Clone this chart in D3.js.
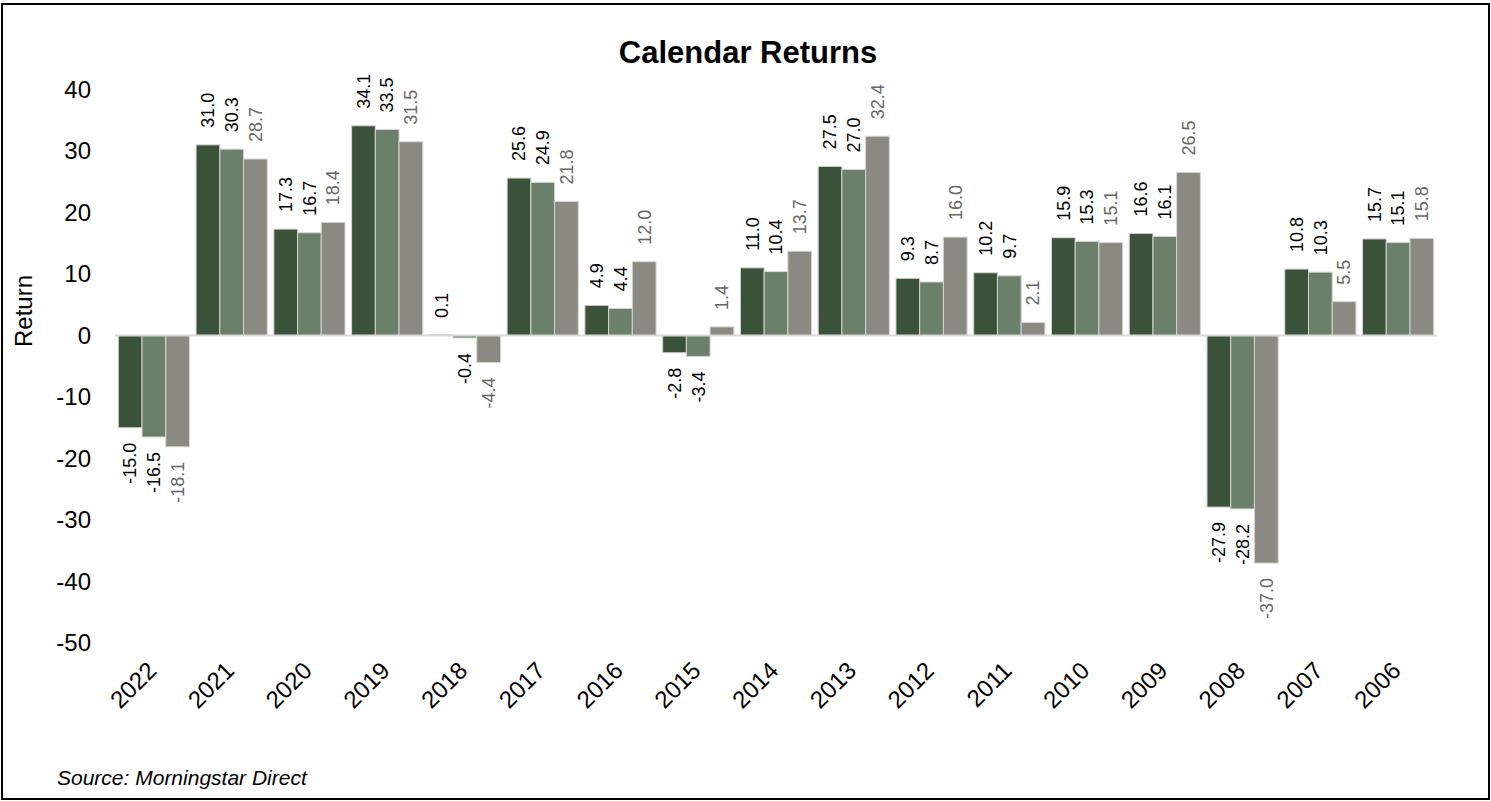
<!DOCTYPE html>
<html>
<head>
<meta charset="utf-8">
<script src="https://cdn.jsdelivr.net/npm/d3@7"></script>
<style>
  html, body { margin: 0; padding: 0; background: #fff; }
  svg { display: block; font-family: Arial, "Liberation Sans", sans-serif; }
</style>
</head>
<body>
<svg id="chart" width="1491" height="801"></svg>
<script>
const years = ["2022","2021","2020","2019","2018","2017","2016","2015","2014","2013","2012","2011","2010","2009","2008","2007","2006"];
const seriesNames = ["Series A","Series B","Series C"];
const seriesA = [-15.0, 31.0, 17.3, 34.1, 0.1, 25.6, 4.9, -2.8, 11.0, 27.5, 9.3, 10.2, 15.9, 16.6, -27.9, 10.8, 15.7];
const seriesB = [-16.5, 30.3, 16.7, 33.5, -0.4, 24.9, 4.4, -3.4, 10.4, 27.0, 8.7, 9.7, 15.3, 16.1, -28.2, 10.3, 15.1];
const seriesC = [-18.1, 28.7, 18.4, 31.5, -4.4, 21.8, 12.0, 1.4, 13.7, 32.4, 16.0, 2.1, 15.1, 26.5, -37.0, 5.5, 15.8];
const yTicks = [40, 30, 20, 10, 0, -10, -20, -30, -40, -50];

const colors = ["#3a523a", "#6a806a", "#8a8a82"];
const labelColors = ["#000000", "#000000", "#666666"];

const svg = d3.select("#chart");
const W = 1491, H = 801;

// outer border
svg.append("rect").attr("x", 2).attr("y", 4).attr("width", W - 4).attr("height", H - 6)
  .attr("fill", "none").attr("stroke", "#000").attr("stroke-width", 2);

const x = d3.scaleBand().domain(years).range([115, 1437]).paddingInner(0.085).paddingOuter(0.0425);
const xs = d3.scaleBand().domain(seriesNames).range([0, x.bandwidth()]).padding(0);
const y = d3.scaleLinear().domain([-50, 40]).range([643, 89.5]);

const data = years.map((yr, i) => ({ year: yr, vals: [seriesA[i], seriesB[i], seriesC[i]] }));

// title
svg.append("text").attr("x", 748).attr("y", 63).attr("text-anchor", "middle")
  .attr("font-size", 31).attr("font-weight", "bold").attr("fill", "#000").text("Calendar Returns");

// y axis
const yAxis = d3.axisLeft(y).tickValues(yTicks).tickSize(0).tickPadding(0).tickFormat(d => String(d));
const yg = svg.append("g").attr("transform", "translate(91,0)").call(yAxis);
yg.select(".domain").remove();
yg.selectAll("text").attr("font-size", 24).attr("fill", "#000").attr("font-family", "Arial, 'Liberation Sans', sans-serif");

// y label
svg.append("text").attr("transform", "translate(32,311) rotate(-90)").attr("text-anchor", "middle")
  .attr("font-size", 24).attr("fill", "#000").text("Return");

// bars
const groups = svg.append("g").selectAll("g").data(data).join("g")
  .attr("transform", d => `translate(${x(d.year)},0)`);

groups.selectAll("rect").data(d => d.vals.map((v, k) => ({ v, k }))).join("rect")
  .attr("x", d => xs(seriesNames[d.k]))
  .attr("width", xs.bandwidth())
  .attr("y", d => y(Math.max(0, d.v)))
  .attr("height", d => Math.abs(y(d.v) - y(0)))
  .attr("fill", d => colors[d.k])
  .attr("stroke", "#d4d4d0").attr("stroke-width", 1);

// zero line
svg.append("line").attr("x1", 115).attr("x2", 1437).attr("y1", y(0)).attr("y2", y(0))
  .attr("stroke", "#d9d9d9").attr("stroke-width", 2);

// value labels
groups.selectAll("text.val").data(d => d.vals.map((v, k) => ({ v, k }))).join("text")
  .attr("class", "val")
  .attr("transform", d => {
    const cx = xs(seriesNames[d.k]) + xs.bandwidth() / 2;
    const yy = d.v >= 0 ? y(d.v) - 17 : y(d.v) + 15;
    return `translate(${cx},${yy}) rotate(-90)`;
  })
  .attr("text-anchor", d => d.v >= 0 ? "start" : "end")
  .attr("dy", "0.35em")
  .attr("font-size", 18)
  .attr("fill", d => labelColors[d.k])
  .text(d => d.v.toFixed(1));

// x axis labels
const xAxis = d3.axisBottom(x).tickSize(0).tickPadding(0);
const xg = svg.append("g").attr("transform", "translate(0,0)").call(xAxis);
xg.select(".domain").remove();
xg.selectAll(".tick").attr("transform", d => `translate(${x(d) + x.bandwidth() / 2},0)`);
xg.selectAll(".tick text")
  .attr("transform", "translate(4,672) rotate(-45)")
  .attr("text-anchor", "end").attr("dy", 0).attr("y", 0)
  .attr("font-size", 24).attr("fill", "#000").attr("font-family", "Arial, 'Liberation Sans', sans-serif");

// source
svg.append("text").attr("x", 57).attr("y", 785).attr("font-size", 21).attr("font-style", "italic")
  .attr("fill", "#000").text("Source: Morningstar Direct");
</script>
</body>
</html>
